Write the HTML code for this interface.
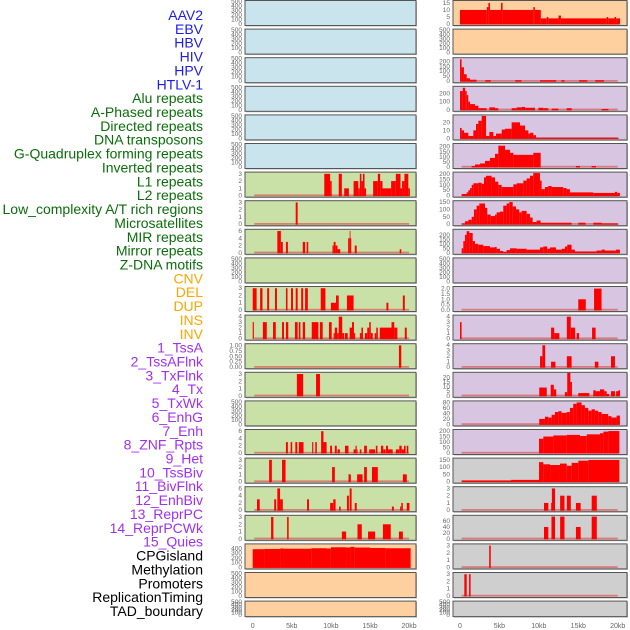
<!DOCTYPE html>
<html><head><meta charset="utf-8"><style>
html,body{margin:0;padding:0;background:#fff;}
svg{display:block;font-family:"Liberation Sans",sans-serif;}
</style></head><body>
<svg id="chart" width="630" height="630" viewBox="0 0 630 630" xmlns="http://www.w3.org/2000/svg"></svg>
<script>
// ---- track labels ----
const LABELS=["AAV2","EBV","HBV","HIV","HPV","HTLV-1","Alu repeats","A-Phased repeats","Directed repeats","DNA transposons","G-Quadruplex forming repeats","Inverted repeats","L1 repeats","L2 repeats","Low_complexity A/T rich regions","Microsatellites","MIR repeats","Mirror repeats","Z-DNA motifs","CNV","DEL","DUP","INS","INV","1_TssA","2_TssAFlnk","3_TxFlnk","4_Tx","5_TxWk","6_EnhG","7_Enh","8_ZNF_Rpts","9_Het","10_TssBiv","11_BivFlnk","12_EnhBiv","13_ReprPC","14_ReprPCWk","15_Quies","CPGisland","Methylation","Promoters","ReplicationTiming","TAD_boundary"];
const LABEL_GROUPS=[6,13,5,15,5];
const X_TICKS=[0,5,10,15,20];
const X_TICK_LABELS=["0","5kb","10kb","15kb","20kb"];
const EMPTY_TICKS=[0,100,200,300,400,500];
const T3=[0,1,2,3], T6=[0,2,4,6], T4=[0,1,2,3,4];
// ---- middle column data (kb breakpoints / step values) ----
const M7_POS=[9.15,9.9,10.1,11.0,11.4,11.7,12.3,12.9,13.5,13.7,13.9,14.1,14.3,14.5,15.4,16.0,16.3,16.6,17.7,18.3,18.9,19.1,19.4,19.9,20.1];
const M7_VAL=[3,2,0,3,0,1,0,2,1,3,2,3,1,0,2,3,2,1,2,3,1,2,3,1];
const M8_POS=[5.5,5.75];
const M8_VAL=[3];
const M9_POS=[3.15,3.6,3.85,4.25,4.5,6.4,6.7,6.9,7.1,10.2,10.35,10.6,10.85,11.2,12.2,12.4,12.5,12.6,13.05,13.3,18.8,19.0];
const M9_VAL=[6,3,0,3,0,3,0,3,0,2,3,2,1,0,4,6,4,0,2,0,1];
const M11_POS=[0,0.5,0.95,1.25,1.85,2.1,2.85,3.1,4.25,4.45,4.9,5.15,5.5,5.75,6.2,6.45,6.7,7.05,8.7,9.3,10.0,10.65,11.0,12.05,12.9,17.1,17.35,19.2,19.45];
const M11_VAL=[3,0,3,0,3,0,3,0,3,0,3,0,3,0,3,0,3,0,3,0,1,2,0,2,0,1,0,2];
const M12_POS=[0,0.15,1.3,1.8,2.6,2.95,3.75,4.0,4.25,4.55,5.4,5.75,5.9,6.1,6.4,6.7,7.55,8.4,8.6,8.95,9.75,10.1,10.35,10.5,10.8,11.0,11.45,11.7,11.8,12.15,12.4,12.7,12.95,13.1,13.7,13.9,14.1,14.35,14.65,14.9,15.1,15.35,15.6,15.8,16.0,16.25,17.75,18.1,18.5,19.45,19.7];
const M12_VAL=[3,0,3,0,3,0,3,0,3,0,3,0,3,0,3,0,3,0,3,0,3,0,1,2,1,4,1,0,1,0,2,3,1,0,1,2,0,1,2,3,1,0,1,2,0,2,3,2,0,2];
const M13_POS=[18.7,19.0];
const M13_VAL=[1];
const M14_POS=[5.65,6.45,8.1,8.6];
const M14_VAL=[3,0,3];
const M16_POS=[4.25,4.5,4.85,5.05,5.45,5.7,5.9,6.5,7.6,7.75,8.0,8.2,8.75,9.05,9.45,9.9,10.15,10.5,10.75,10.85,11.15,11.8,12.25,12.9,13.15,13.3,13.4,13.7,13.9,14.25,14.6,14.9,15.65,15.75,15.95,16.4,16.7,17.0,17.05,17.3,17.9,18.3,18.75,19.05,19.35,19.55,19.7,19.9];
const M16_VAL=[3,0,3,0,3,0,3,0,3,0,3,0,6,3,0,2,0,2,0,1,0,2,0,1,2,1,0,1,0,2,0,1,0,2,0,2,1,0,2,1,0,1,2,1,2,0,2];
const M17_POS=[2.1,2.45,3.75,4.2,10.15,10.5,12.25,12.55,13.35,14.05,14.25,14.6,15.25,16.0,19.2,19.7];
const M17_VAL=[3,0,3,0,2,0,1,0,1,0,2,0,2,0,1];
const M18_POS=[0.55,0.9,2.75,3.0,3.15,3.5,3.85,6.95,7.2,9.9,10.3,10.6,11.05,11.25,12.05,12.3,12.4,12.65,13.05,13.3,17.8,18.05,18.85,19.0,19.2,19.7,20.05];
const M18_VAL=[3,0,3,0,6,3,0,3,0,2,3,0,1,0,4,0,6,0,2,0,1,0,1,2,0,2];
const M19_POS=[2.35,2.65,4.4,4.6,11.4,11.95,13.4,13.95,14.75,15.65,16.65,17.65,18.7,19.2];
const M19_VAL=[3,0,3,0,1,0,2,0,1,0,2,0,1];
const M20_POS=[0,1.5,3.5,4.0,7.5,9.5,10.0,12.0,12.5,13.0,15.0,17.0,20.2];
const M20_VAL=[380,385,395,390,400,395,420,415,430,415,405,400];
// ---- right column data ----
const R1_POS=[0,3.4,3.6,3.8,5.2,5.4,9.3,9.5,10.25,11.0,11.2,12.5,12.8,18.6,18.8,19.6,19.8,20.3];
const R1_VAL=[10,12,15,10,15,10,12,10,4,5,4,6,4,5,4,5,4];
const R3_POS=[0,0.2,0.5,0.85,1.25,2.1,3.2,3.9,7.0,7.8,10.15,12.2,12.85,13.25,15.1,16.15,17.15,18.25];
const R3_VAL=[220,140,70,30,15,0,10,0,10,0,10,0,10,0,10,0,10];
const R4_POS=[0,0.35,0.65,0.85,1.05,1.27,1.9,2.33,3.38,3.72,4.44,4.86,6.55,7.19,7.82,8.25,9.51,9.94,10.57,11.2,11.63,12.47,13.53,14.16,17.97,18.82];
const R4_VAL=[230,270,230,180,100,70,50,20,0,30,20,0,20,30,35,25,0,25,20,0,15,0,20,0,10];
const R5_POS=[0,0.21,0.51,1.06,1.69,2.03,2.33,2.75,3.3,3.72,4.23,4.57,5.29,5.71,6.55,7.61,8.25,8.67,8.88,9.3,9.64,20.1];
const R5_VAL=[13,10,7,3,10,18,22,28,3,8,3,6,11,12,20,16,10,6,7,4,0.8];
const R6_POS=[1.48,1.9,2.54,3.17,3.8,4.44,4.86,5.71,6.34,6.77,9.3,10.23,14.71,15.22,16.7,17.25];
const R6_VAL=[10,25,35,60,90,130,210,170,140,120,140,0,10,0,10];
const R7_POS=[0.21,0.84,1.06,1.27,1.48,1.69,2.32,2.75,3.04,3.3,4.01,4.44,4.86,5.28,6.76,7.18,8.03,8.45,8.87,9.29,10.14,10.35,10.77,11.2,11.62,13.1,13.52,13.94,16.9,19.65,19.94,20.28];
const R7_VAL=[15,30,50,70,100,115,120,110,170,185,170,130,100,80,105,115,140,160,185,210,140,60,80,90,80,70,60,30,25,35,25];
const R8_POS=[0.21,0.63,1.06,1.48,1.77,2.11,2.45,3.17,3.46,3.89,4.44,4.65,5.07,5.49,5.91,6.25,6.68,7.1,7.52,7.82,8.45,8.87,9.21,9.72,10.22,14.15,15.0,15.93,16.9,17.96,20.07];
const R8_VAL=[5,20,30,50,100,125,140,110,65,55,65,80,85,125,140,150,120,100,80,90,70,45,15,25,10,0,10,0,10,5];
const R9_POS=[0.21,0.42,0.63,0.84,1.18,1.61,1.9,2.32,2.96,3.8,4.44,4.65,5.07,5.49,5.91,6.34,7.18,8.45,10.14,10.56,11.07,11.41,12.17,12.89,13.31,13.6,14.15,14.58,17.32,17.96,18.38,19.77,20.28];
const R9_VAL=[50,130,200,240,220,130,100,90,75,60,65,45,20,10,30,50,45,35,60,70,45,60,35,45,70,90,35,15,25,35,25,35];
const R11_POS=[15.0,15.95,17.0,17.95];
const R11_VAL=[1,0,2];
const R12_POS=[0,0.2,11.55,11.95,12.6,13.55,14.05,14.6,14.8,15.1,16.75,17.2];
const R12_VAL=[3,0,2,1,0,4,2,0,1,0,2];
const R13_POS=[10.15,10.45,10.8,11.55,12.1,13.55,14.15,17.1,17.55,19.15,19.65];
const R13_VAL=[2,4,0,1,0,2,0,1,0,2];
const R14_POS=[10.05,11.0,11.5,11.9,12.2,13.3,13.6,14.0,14.2,15.0,16.4,16.9,17.2,17.75,18.3,18.6,18.9,19.15,19.65,19.8,20.1,20.3];
const R14_VAL=[9,0,12,7,0,4,25,15,0,3,0,6,5,7,5,2,0,5,0,5,6];
const R15_POS=[10.05,10.77,11.2,11.62,12.04,12.46,12.89,13.52,13.94,14.36,14.79,15.42,15.84,16.27,16.69,17.11,17.53,17.96,18.8,19.22,19.86,20.28];
const R15_VAL=[20,28,25,35,45,48,42,45,60,75,80,70,60,50,55,50,45,38,30,25,32];
const R16_POS=[10.02,10.57,11.84,13.53,15.22,16.07,17.76,18.18,18.82,20.21];
const R16_VAL=[130,150,160,165,155,170,180,195,200];
const R17_POS=[0.21,6.47,10.02,10.57,11.42,12.68,13.53,14.16,15.01,16.28,20.21];
const R17_VAL=[8,12,135,120,115,125,110,130,145,150];
const R18_POS=[10.65,11.2,11.55,11.65,12.05,12.7,13.25,13.55,14.05,14.7,15.3,16.7,17.35];
const R18_VAL=[1,0,1,3,0,2,0,2,0,1,0,2];
const R19_POS=[10.65,11.2,11.6,12.05,12.7,13.25,14.7,15.3,16.7,17.35];
const R19_VAL=[40,0,75,0,75,0,40,0,75];
const R20_POS=[3.7,3.9];
const R20_VAL=[3];
const R21_POS=[0.55,0.85,1.15,1.35];
const R21_VAL=[3,0,3];

const NS="http://www.w3.org/2000/svg";
const svg=document.getElementById('chart');
function mk(tag,attrs,parent){const e=document.createElementNS(NS,tag);for(const k in attrs)e.setAttribute(k,attrs[k]);(parent||svg).appendChild(e);return e;}

// labels
const GROUP_COLORS=["#1c1cf0","#0a6e0a","#ffa500","#a030f0","#000000"];
let li=0;
LABEL_GROUPS.forEach((n,g)=>{for(let k=0;k<n;k++){
  const t=mk('text',{x:203,y:15+li*13.86+5,'text-anchor':'end','font-size':14,fill:GROUP_COLORS[g]});
  t.textContent=LABELS[li];
  
  
  li++;}});

// panel configs (layout, not data)
const COLS=[
 {name:'left',x:245,w:171,x0:252.7,k:7.82,tickX:242,
  bg:i=>i<6?'#c9e4ec':(i<19?'#c9e1a6':'#fed09f'),
  panels:{6:[M7_POS,M7_VAL,T3,3.1],7:[M8_POS,M8_VAL,T3,3.1],8:[M9_POS,M9_VAL,T6,6.2],10:[M11_POS,M11_VAL,T3,3.1],
   11:[M12_POS,M12_VAL,T4,4.1],12:[M13_POS,M13_VAL,[0,0.25,0.5,0.75,1],1.03,2],13:[M14_POS,M14_VAL,T3,3.1],
   15:[M16_POS,M16_VAL,T6,6.2],16:[M17_POS,M17_VAL,T3,3.1],17:[M18_POS,M18_VAL,T6,6.2],18:[M19_POS,M19_VAL,T3,3.1],
   19:[M20_POS,M20_VAL,[0,100,200,300,400],470]}},
 {name:'right',x:453,w:174,x0:460,k:7.885,tickX:450,
  bg:i=>i<2?'#fed09f':(i<16?'#d7c5e1':'#cfcfcf'),
  panels:{0:[R1_POS,R1_VAL,[0,5,10,15],16],2:[R3_POS,R3_VAL,[0,50,100,150,200],226],3:[R4_POS,R4_VAL,[0,100,200],276],
   4:[R5_POS,R5_VAL,[0,10,20],28],5:[R6_POS,R6_VAL,[0,50,100,150,200],222],6:[R7_POS,R7_VAL,[0,50,100,150,200],210],
   7:[R8_POS,R8_VAL,[0,50,100,150],152],8:[R9_POS,R9_VAL,[0,50,100,150,200],250],10:[R11_POS,R11_VAL,[0,0.5,1,1.5,2],2.1,1],
   11:[R12_POS,R12_VAL,T4,4.1],12:[R13_POS,R13_VAL,T4,4.1],13:[R14_POS,R14_VAL,[0,5,10,15,20],24.5],
   14:[R15_POS,R15_VAL,[0,20,40,60,80],82],15:[R16_POS,R16_VAL,[0,50,100,150,200],205],16:[R17_POS,R17_VAL,[0,50,100,150],156],
   17:[R18_POS,R18_VAL,T3,3.1],18:[R19_POS,R19_VAL,[0,20,40,60],76],19:[R20_POS,R20_VAL,T3,3.1],20:[R21_POS,R21_VAL,T3,3.1]}}
];

COLS.forEach(col=>{
  const xs=kb=>col.x0+kb*col.k;
  for(let i=0;i<22;i++){
    const top=0.5+i*28.6, h=(i===21)?15.5:25;
    const g=mk('g',{});
    
    
    mk('rect',{x:col.x+1,y:top+1,width:col.w,height:h,fill:'#bbb'},g);
    mk('rect',{x:col.x,y:top,width:col.w,height:h,fill:col.bg(i),stroke:'#555','stroke-width':1},g);
    const p=col.panels[i];
    const pos=p?p[0]:null, val=p?p[1]:null, ticks=p?p[2]:EMPTY_TICKS, ymax=p?p[3]:500, dec=p?p[4]:0;
    const base=top+h-1.5, span=h-2.5;
    const ys=v=>base-v/ymax*span;
    ticks.forEach(t=>{
      const tl=mk('text',{x:col.tickX,y:ys(t)+2,'text-anchor':'end','font-size':6.5,fill:'#666'},g);
      tl.textContent=dec?t.toFixed(dec):String(t);
      
      
    });
    if(p){
      mk('rect',{x:xs(0.2),y:base-1.2,width:xs(20)-xs(0.2),height:1.8,fill:'#d86060','fill-opacity':0.75},g);
      for(let j=0;j<val.length;j++){
        if(val[j]<=0)continue;
        const b=mk('rect',{x:xs(pos[j]),y:ys(val[j]),width:Math.max(0.8,xs(pos[j+1])-xs(pos[j])),height:base-ys(val[j])+0.5,fill:'#ff0000'},g);
        
        
      }
    }
  }
  X_TICKS.forEach((t,j)=>{
    const tl=mk('text',{x:xs(t),y:628,'text-anchor':'middle','font-size':7,fill:'#666'});
    tl.textContent=X_TICK_LABELS[j];
    
    
  });
});
</script>
</body></html>
